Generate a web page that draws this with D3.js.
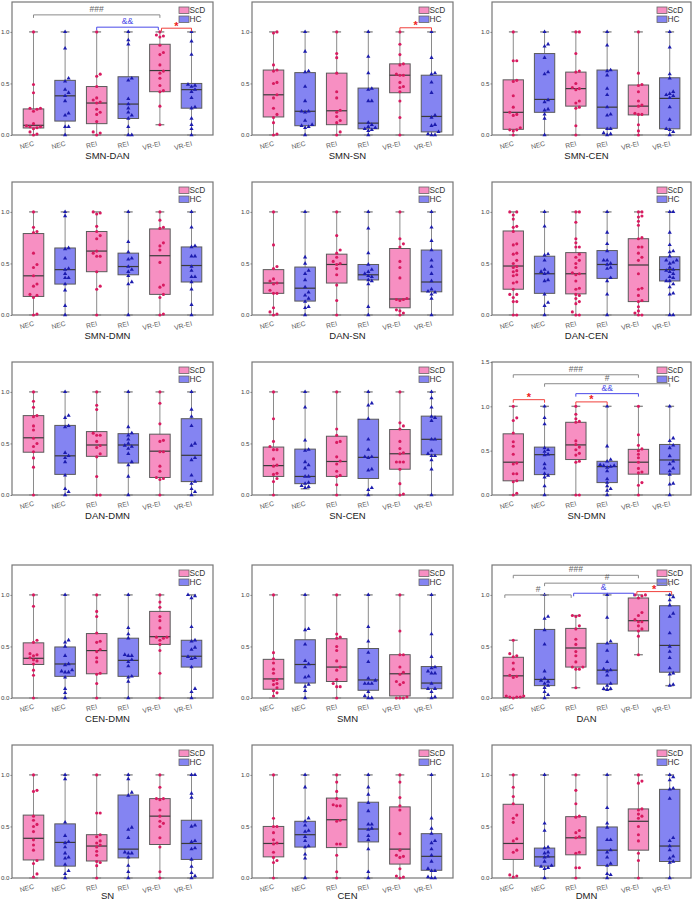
<!DOCTYPE html>
<html>
<head>
<meta charset="utf-8">
<script src="https://cdn.jsdelivr.net/npm/d3@7"></script>
<style>
  body { margin: 0; background: #fff; }
  text { font-family: Arial, "Liberation Sans", sans-serif; }
</style>
</head>
<body>
<script>
// panels, left to right, top to bottom
const panelTitles = ["SMN-DAN", "SMN-SN", "SMN-CEN", "SMN-DMN", "DAN-SN", "DAN-CEN",
  "DAN-DMN", "SN-CEN", "SN-DMN", "CEN-DMN", "SMN", "DAN", "SN", "CEN", "DMN"];
const groupLabels = ["NEC", "NEC", "REI", "REI", "VR-EI", "VR-EI"];
const groupSeries = ["ScD", "HC", "ScD", "HC", "ScD", "HC"];
const legendLabels = ["ScD", "HC"];
const yMaxes = [1.29, 1.29, 1.29, 1.29, 1.29, 1.29, 1.29, 1.29, 1.5, 1.29, 1.29, 1.29, 1.29, 1.29, 1.29];
const yTicks = [0, 0.5, 1.0, 1.5];

// [min, q1, median, q3, max] per box
const boxStats = [
  [[0,0.068,0.094,0.253,1],[0,0.135,0.38,0.53,1],[0,0.11,0.31,0.47,1],[0,0.16,0.30,0.565,1],[0.1,0.42,0.625,0.88,1],[0,0.26,0.44,0.50,1]],
  [[0,0.175,0.39,0.63,1],[0,0.09,0.23,0.605,1],[0,0.10,0.235,0.60,1],[0,0.06,0.115,0.455,1],[0,0.41,0.58,0.69,1],[0,0.03,0.18,0.58,1]],
  [[0,0.055,0.22,0.535,1],[0,0.22,0.345,0.79,1],[0,0.28,0.45,0.61,1],[0,0.065,0.27,0.63,1],[0,0.195,0.28,0.485,1],[0,0.06,0.355,0.555,1]],
  [[0,0.18,0.38,0.79,1],[0,0.30,0.44,0.65,1],[0,0.42,0.62,0.81,1],[0,0.39,0.47,0.60,1],[0,0.20,0.575,0.835,1],[0,0.32,0.48,0.66,1]],
  [[0,0.21,0.31,0.44,1],[0,0.135,0.26,0.465,1],[0,0.31,0.49,0.59,1],[0,0.34,0.39,0.49,1],[0,0.07,0.155,0.645,1],[0,0.225,0.32,0.63,1]],
  [[0,0.25,0.475,0.815,1],[0,0.21,0.40,0.57,1],[0,0.205,0.40,0.605,1],[0,0.355,0.49,0.625,1],[0,0.13,0.485,0.74,1],[0,0.33,0.44,0.565,1]],
  [[0,0.415,0.555,0.77,1],[0,0.20,0.38,0.675,1],[0,0.375,0.485,0.615,1],[0,0.31,0.485,0.595,1],[0,0.17,0.425,0.59,1],[0,0.13,0.385,0.74,1]],
  [[0,0.18,0.285,0.465,1],[0.06,0.11,0.18,0.445,1],[0,0.18,0.325,0.57,1],[0,0.16,0.365,0.735,1],[0,0.25,0.40,0.635,1],[0,0.39,0.54,0.765,1]],
  [[0,0.16,0.37,0.69,1],[0,0.23,0.455,0.54,1],[0,0.40,0.565,0.82,1],[0,0.14,0.32,0.38,1],[0,0.235,0.37,0.515,1],[0,0.235,0.395,0.57,1]],
  [[0,0.325,0.385,0.535,1],[0,0.21,0.33,0.495,1],[0,0.235,0.46,0.625,1],[0,0.21,0.365,0.58,1],[0,0.52,0.595,0.84,1],[0,0.30,0.405,0.56,1]],
  [[0,0.085,0.185,0.375,1],[0,0.145,0.325,0.565,1],[0,0.16,0.30,0.575,1],[0,0.075,0.175,0.48,1],[0,0.02,0.235,0.42,1],[0,0.09,0.145,0.305,1]],
  [[0,0.005,0.215,0.395,0.56],[0,0.12,0.18,0.665,1],[0.1,0.30,0.485,0.675,0.8],[0.08,0.135,0.27,0.53,1],[0.42,0.65,0.75,0.97,1],[0.12,0.25,0.51,0.895,1]],
  [[0,0.175,0.385,0.61,1],[0,0.115,0.345,0.525,1],[0,0.165,0.31,0.42,1],[0,0.195,0.28,0.805,1],[0,0.325,0.60,0.77,1],[0,0.18,0.335,0.56,1]],
  [[0,0.205,0.335,0.50,1],[0,0.30,0.42,0.55,1],[0,0.295,0.565,0.775,1],[0,0.35,0.475,0.735,1],[0,0.135,0.28,0.69,1],[0,0.075,0.21,0.43,1]],
  [[0,0.18,0.335,0.715,1],[0,0.115,0.205,0.29,1],[0,0.225,0.39,0.595,1],[0,0.12,0.27,0.495,1],[0,0.27,0.55,0.67,1],[0,0.16,0.31,0.86,1]]
];

// individual subject values per box
const boxPoints = [
  [[1,0.49,0.41,0.26,0.26,0.25,0.23,0.11,0.09,0.08,0.08,0.07,0.06,0.03,0.01,0],
   [1,0.84,0.55,0.52,0.44,0.41,0.38,0.33,0.21,0.19,0.08,0.08,0],
   [1,0.59,0.57,0.47,0.36,0.34,0.32,0.31,0.25,0.22,0.2,0.13,0.03,0.02,0],
   [1,0.92,0.88,0.55,0.53,0.35,0.30,0.26,0.22,0.19,0.16,0.08,0,0],
   [1,0.97,0.96,0.95,0.87,0.8,0.78,0.68,0.62,0.6,0.55,0.48,0.43,0.42,0.28,0.1],
   [1,0.91,0.78,0.49,0.48,0.47,0.44,0.42,0.36,0.27,0.26,0.16,0.1,0.06,0]],
  [[1,0.99,0.68,0.63,0.62,0.51,0.5,0.39,0.36,0.26,0.2,0.17,0.12,0.01,0],
   [1,0.81,0.62,0.61,0.47,0.33,0.23,0.23,0.22,0.14,0.1,0.09,0.08,0.07,0],
   [1,0.79,0.75,0.6,0.42,0.36,0.24,0.22,0.18,0.14,0.12,0.03,0],
   [1,0.76,0.6,0.45,0.44,0.33,0.33,0.12,0.1,0.08,0.07,0.06,0.05,0.04,0],
   [1,0.88,0.78,0.69,0.68,0.59,0.58,0.58,0.51,0.47,0.46,0.42,0.33,0.17,0],
   [1,0.75,0.6,0.59,0.51,0.41,0.19,0.17,0.1,0.09,0.03,0.01,0,0]],
  [[1,0.72,0.72,0.53,0.52,0.38,0.27,0.22,0.2,0.19,0.07,0.05,0.05,0.04,0],
   [1,0.88,0.86,0.75,0.61,0.59,0.34,0.32,0.25,0.24,0.2,0.16,0],
   [1,1,0.79,0.62,0.61,0.5,0.46,0.45,0.44,0.33,0.31,0.27,0.26,0.09,0],
   [1,0.87,0.63,0.62,0.58,0.45,0.39,0.27,0.2,0.19,0.06,0.06,0.02,0.01,0],
   [1,0.6,0.49,0.48,0.42,0.33,0.29,0.28,0.21,0.2,0.2,0.1,0.04,0],
   [1,0.85,0.59,0.55,0.42,0.4,0.39,0.38,0.36,0.27,0.15,0.06,0.05,0.03,0]],
  [[1,0.85,0.81,0.8,0.6,0.49,0.46,0.38,0.3,0.28,0.2,0.19,0.17,0.01,0],
   [1,0.96,0.65,0.64,0.55,0.45,0.44,0.4,0.36,0.36,0.3,0.24,0.09,0],
   [1,0.99,0.98,0.86,0.81,0.77,0.74,0.62,0.6,0.57,0.57,0.42,0.28,0.25,0],
   [1,0.71,0.61,0.55,0.54,0.47,0.44,0.42,0.38,0.32,0.3,0],
   [1,0.92,0.85,0.84,0.7,0.67,0.63,0.51,0.29,0.27,0.2,0.17,0.01,0],
   [1,0.85,0.67,0.66,0.57,0.57,0.47,0.43,0.37,0.37,0.32,0.25,0.1,0]],
  [[1,0.68,0.47,0.45,0.35,0.33,0.31,0.3,0.24,0.21,0.21,0.07,0.03,0.01,0],
   [1,0.56,0.5,0.43,0.4,0.34,0.27,0.22,0.19,0.16,0.13,0.08,0.07,0],
   [1,0.77,0.63,0.6,0.56,0.52,0.5,0.49,0.45,0.39,0.29,0.14,0],
   [1,0.84,0.6,0.49,0.44,0.42,0.4,0.38,0.37,0.34,0.33,0.3,0.08,0],
   [1,0.74,0.69,0.66,0.52,0.46,0.36,0.16,0.15,0.15,0.14,0.05,0.04,0.02,0],
   [1,0.85,0.72,0.63,0.53,0.47,0.4,0.33,0.25,0.23,0.22,0.2,0.16,0]],
  [[1,1,0.97,0.93,0.86,0.85,0.81,0.69,0.68,0.6,0.59,0.53,0.5,0.47,0.46,0.43,0.42,0.39,0.38,0.32,0.31,0.25,0.2,0.2,0.17,0.13,0.13,0,0],
   [1,0.86,0.59,0.58,0.53,0.44,0.42,0.41,0.4,0.34,0.33,0.2,0.12,0.09,0],
   [1,1,0.9,0.74,0.7,0.66,0.66,0.59,0.56,0.53,0.5,0.46,0.41,0.4,0.39,0.33,0.26,0.25,0.2,0.19,0.16,0.13,0.11,0.03,0,0],
   [1,0.8,0.69,0.62,0.53,0.53,0.5,0.49,0.46,0.45,0.36,0.33,0.2,0],
   [1,1,0.96,0.95,0.91,0.87,0.75,0.74,0.66,0.66,0.6,0.56,0.53,0.4,0.26,0.25,0.19,0.14,0.13,0.08,0.04,0.02,0,0],
   [1,1,0.8,0.68,0.62,0.61,0.57,0.53,0.53,0.51,0.5,0.46,0.44,0.43,0.42,0.4,0.37,0.36,0.33,0.33,0.3,0.27,0.21,0.2,0,0]],
  [[1,0.91,0.85,0.77,0.76,0.67,0.63,0.55,0.5,0.47,0.42,0.36,0.27,0],
   [1,0.77,0.75,0.67,0.66,0.41,0.38,0.36,0.32,0.19,0.06,0.03,0],
   [1,0.87,0.83,0.6,0.58,0.58,0.52,0.48,0.46,0.4,0.37,0.18,0,0],
   [1,0.66,0.6,0.58,0.54,0.5,0.48,0.47,0.45,0.4,0.32,0.29,0.18,0],
   [1,0.89,0.69,0.53,0.52,0.42,0.42,0.28,0.23,0.17,0.16,0.15,0],
   [1,0.83,0.76,0.67,0.5,0.48,0.36,0.34,0.19,0.13,0.11,0.06,0.03,0]],
  [[1,0.74,0.52,0.47,0.44,0.44,0.35,0.29,0.28,0.21,0.2,0.16,0.13,0],
   [1,0.85,0.53,0.44,0.43,0.32,0.29,0.26,0.18,0.18,0.12,0.11,0.09,0.08,0.07],
   [1,0.64,0.58,0.52,0.51,0.37,0.33,0.3,0.23,0.19,0.18,0.1,0],
   [1,0.89,0.87,0.74,0.54,0.44,0.37,0.37,0.36,0.25,0.24,0.07,0.05,0],
   [1,0.7,0.67,0.64,0.52,0.45,0.41,0.4,0.32,0.32,0.32,0.25,0.11,0.01,0],
   [1,0.94,0.85,0.76,0.75,0.72,0.54,0.54,0.43,0.4,0.38,0.38,0.34,0.25,0]],
  [[1,0.87,0.84,0.7,0.6,0.55,0.46,0.36,0.35,0.24,0.24,0.16,0.15,0.02,0],
   [1,0.87,0.8,0.53,0.51,0.49,0.46,0.45,0.35,0.3,0.24,0.22,0.2,0.1,0],
   [1,0.91,0.86,0.83,0.82,0.61,0.57,0.54,0.51,0.47,0.45,0.38,0.37,0,0],
   [1,0.55,0.4,0.38,0.34,0.33,0.33,0.32,0.31,0.27,0.18,0.14,0.1,0.07,0.05,0],
   [1,0.68,0.56,0.52,0.5,0.46,0.42,0.37,0.3,0.26,0.25,0.14,0.11,0],
   [1,0.64,0.61,0.56,0.53,0.44,0.38,0.35,0.3,0.27,0.23,0.13,0.12,0]],
  [[1,0.89,0.56,0.54,0.43,0.42,0.41,0.39,0.37,0.36,0.33,0.27,0.22,0],
   [1,0.56,0.54,0.5,0.41,0.33,0.32,0.27,0.26,0.25,0.25,0.2,0.09,0.05,0],
   [1,0.84,0.79,0.63,0.55,0.54,0.47,0.45,0.39,0.35,0.24,0.23,0.14,0],
   [1,0.68,0.62,0.58,0.42,0.41,0.41,0.37,0.35,0.31,0.21,0.2,0.16,0],
   [1,0.93,0.88,0.79,0.75,0.68,0.59,0.59,0.58,0.56,0.52,0.46,0.24,0],
   [1,0.99,0.97,0.69,0.56,0.55,0.49,0.47,0.4,0.39,0.38,0.3,0.09,0.06,0]],
  [[1,0.44,0.38,0.34,0.28,0.24,0.18,0.17,0.14,0.13,0.1,0.07,0.05,0.02],
   [1,0.67,0.66,0.52,0.36,0.33,0.3,0.21,0.2,0.13,0.11,0.07,0],
   [1,0.62,0.59,0.58,0.5,0.46,0.36,0.3,0.27,0.18,0.14,0.11,0.11,0],
   [1,0.69,0.55,0.44,0.35,0.19,0.17,0.14,0.14,0.14,0.06,0.02,0,0],
   [1,0.65,0.42,0.42,0.3,0.25,0.23,0.16,0.15,0.13,0.01,0,0,0],
   [1,0.62,0.4,0.3,0.29,0.26,0.24,0.24,0.14,0.09,0.09,0.06,0.01,0]],
  [[0.56,0.43,0.41,0.4,0.34,0.28,0.22,0.21,0.2,0.02,0.02,0.01,0.01,0.01,0],
   [1,0.79,0.77,0.66,0.52,0.26,0.19,0.17,0.16,0.14,0.12,0.1,0.06,0.03,0],
   [0.8,0.8,0.79,0.7,0.67,0.57,0.52,0.45,0.41,0.35,0.3,0.3,0.28,0.28,0.1],
   [1,0.78,0.55,0.53,0.46,0.35,0.28,0.27,0.26,0.22,0.14,0.12,0.09,0.09,0.08],
   [1,1,0.99,0.97,0.83,0.8,0.76,0.74,0.74,0.7,0.67,0.65,0.6,0.42],
   [1,0.98,0.95,0.9,0.82,0.79,0.63,0.5,0.45,0.39,0.29,0.24,0.23,0.13,0.12]],
  [[1,0.85,0.84,0.6,0.56,0.52,0.5,0.45,0.37,0.32,0.27,0.17,0.14,0.04,0.01],
   [1,0.96,0.54,0.41,0.35,0.34,0.3,0.24,0.2,0.19,0.13,0.07,0.04,0],
   [1,0.63,0.63,0.42,0.4,0.36,0.34,0.32,0.3,0.26,0.22,0.16,0.15,0.12,0],
   [1,0.96,0.83,0.8,0.49,0.47,0.39,0.25,0.24,0.24,0.2,0.12,0.06,0],
   [1,0.88,0.77,0.77,0.76,0.66,0.6,0.55,0.53,0.5,0.39,0.3,0.06,0],
   [1,1,0.82,0.78,0.51,0.5,0.36,0.35,0.29,0.28,0.18,0.11,0.05,0.02,0]],
  [[1,0.58,0.5,0.5,0.44,0.37,0.34,0.33,0.25,0.2,0.17,0.15,0],
   [1,0.88,0.58,0.55,0.51,0.46,0.45,0.4,0.36,0.31,0.3,0.23,0.19,0],
   [1,0.93,0.84,0.77,0.71,0.7,0.7,0.56,0.55,0.33,0.33,0.22,0.06,0],
   [1,0.88,0.81,0.73,0.65,0.52,0.52,0.48,0.47,0.41,0.37,0.28,0.06,0],
   [1,0.93,0.78,0.7,0.66,0.43,0.27,0.22,0.21,0.2,0.09,0.02,0.01,0],
   [1,0.58,0.48,0.43,0.36,0.34,0.28,0.22,0.16,0.09,0.07,0.07,0.01,0,0]],
  [[1,0.88,0.79,0.72,0.61,0.58,0.54,0.38,0.36,0.27,0.25,0.03,0.02,0.01],
   [1,0.53,0.46,0.3,0.29,0.25,0.24,0.21,0.2,0.16,0.12,0.11,0.1,0.09,0],
   [1,0.85,0.72,0.6,0.59,0.46,0.44,0.4,0.39,0.25,0.24,0.1,0.1,0],
   [1,0.68,0.53,0.49,0.37,0.37,0.27,0.25,0.2,0.14,0.12,0.04,0.03,0],
   [1,0.94,0.92,0.67,0.66,0.62,0.6,0.58,0.5,0.42,0.36,0.24,0.17,0],
   [1,0.98,0.95,0.87,0.86,0.77,0.39,0.36,0.31,0.27,0.21,0.19,0.16,0.15,0]]
];

// significance brackets: panel, from group, to group, height, label, kind
const brackets = [
  [0, 0, 4, 1.165, "###", "gray"],
  [0, 2, 3.95, 1.046, "&&", "blue"],
  [0, 4.05, 5, 1.036, "*", "red"],
  [1, 4, 5, 1.04, "*", "red"],
  [8, 0, 4, 1.356, "###", "gray"],
  [8, 1, 5, 1.255, "#", "gray"],
  [8, 2, 4, 1.143, "&&", "blue"],
  [8, 0, 1, 1.075, "*", "red"],
  [8, 2, 3, 1.05, "*", "red"],
  [11, 0, 4, 1.19, "###", "gray"],
  [11, 1, 5, 1.114, "#", "gray"],
  [11, -0.27, 1.85, 1.0, "#", "gray"],
  [11, 1.93, 3.85, 1.016, "&", "blue"],
  [11, 3.95, 5.06, 1.032, "*", "red"]
];

// layout
const colX = [12, 252, 492];
const colW = [201, 201, 199];
const rowY = [2, 182, 362, 565, 745];
const titleGap = [23.5, 23.5, 23.5, 23.5, 21];
const panelH = 133;
const boxFill = {ScD: "#f78fc2", HC: "#8484f2"};
const dotFill = {ScD: "#d81b60", HC: "#1c1cae"};
const bracketColor = {gray: "#8a8a8a", blue: "#4a4ae8", red: "#f0403c"};
const labelColor = {gray: "#666", blue: "#4a4ae8", red: "#ee2222"};

const svg = d3.select("body").append("svg")
  .attr("width", 692)
  .attr("height", 900);

function scalesFor(p) {
  const col = p % 3, row = Math.floor(p / 3);
  const x0 = colX[col], w = colW[col], y0 = rowY[row];
  const x = d3.scaleBand().domain(d3.range(6)).range([x0, x0 + w])
    .paddingInner(0.35).paddingOuter(0.355);
  const y = d3.scaleLinear().domain([0, yMaxes[p]]).range([y0 + panelH, y0]);
  const cx = i => x(0) + x.bandwidth() / 2 + i * x.step();
  return {x0: x0, w: w, y0: y0, row: row, x: x, y: y, cx: cx};
}

// simple deterministic beeswarm so dots with similar values sit side by side
function swarm(values, cx, y) {
  const placed = [];
  values.slice().sort((a, b) => a - b).forEach(v => {
    const py = y(v);
    let px = cx;
    for (let k = 0; k < 14; k++) {
      const off = k === 0 ? 0 : (k % 2 ? 1 : -1) * Math.ceil(k / 2) * 3.5;
      if (!placed.some(p => Math.hypot(p.x - (cx + off), p.y - py) < 3.3)) { px = cx + off; break; }
    }
    placed.push({x: px, y: py, v: v});
  });
  return placed;
}

panelTitles.forEach((title, p) => {
  const s = scalesFor(p);
  const x0 = s.x0, w = s.w, y0 = s.y0, y = s.y, cx = s.cx;
  const bw = s.x.bandwidth();
  const g = svg.append("g");

  // frame
  g.append("rect")
    .attr("x", x0).attr("y", y0)
    .attr("width", w).attr("height", panelH)
    .attr("fill", "none").attr("stroke", "#777").attr("stroke-width", 1.2);

  // y axis
  const ay = g.append("g")
    .attr("transform", "translate(" + x0 + ",0)")
    .call(d3.axisLeft(y).tickValues(yTicks.filter(t => t <= yMaxes[p] + 1e-9))
      .tickFormat(d3.format(".1f")).tickSize(1.5).tickPadding(1));
  ay.select(".domain").remove();
  ay.selectAll("line").attr("stroke", "#777");
  ay.selectAll("text").attr("font-size", 6.2).attr("fill", "#444");

  // boxes
  boxStats[p].forEach((st, i) => {
    const c = cx(i), ser = groupSeries[i];
    g.append("line")
      .attr("x1", c).attr("x2", c).attr("y1", y(st[0])).attr("y2", y(st[4]))
      .attr("stroke", "#8a8a8a").attr("stroke-width", 1);
    [st[0], st[4]].forEach(v => {
      g.append("line")
        .attr("x1", c - 4.4).attr("x2", c + 4.4).attr("y1", y(v)).attr("y2", y(v))
        .attr("stroke", "#8a8a8a").attr("stroke-width", 1.4);
    });
    g.append("rect")
      .attr("x", c - bw / 2).attr("y", y(st[3]))
      .attr("width", bw).attr("height", y(st[1]) - y(st[3]))
      .attr("fill", boxFill[ser]).attr("stroke", "#5a5a5a").attr("stroke-width", 1);
    g.append("line")
      .attr("x1", c - bw / 2).attr("x2", c + bw / 2).attr("y1", y(st[2])).attr("y2", y(st[2]))
      .attr("stroke", "#3a3a3a").attr("stroke-width", 1.2);

    const pts = swarm(boxPoints[p][i], c, y);
    if (ser === "ScD") {
      g.selectAll(null).data(pts).enter().append("circle")
        .attr("cx", d => d.x).attr("cy", d => d.y).attr("r", 1.55)
        .attr("fill", dotFill[ser]);
    } else {
      g.selectAll(null).data(pts).enter().append("path")
        .attr("d", d3.symbol().type(d3.symbolTriangle).size(7.5))
        .attr("transform", d => "translate(" + d.x + "," + d.y + ")")
        .attr("fill", dotFill[ser]);
    }
  });

  // x tick labels
  groupLabels.forEach((lab, i) => {
    const tx = cx(i) + 1, ty = y0 + panelH + 10.5;
    g.append("text")
      .attr("x", tx).attr("y", ty)
      .attr("transform", "rotate(-15," + tx + "," + ty + ")")
      .attr("text-anchor", "end")
      .attr("font-size", 6.8).attr("fill", "#555")
      .text(lab);
  });

  // title
  g.append("text")
    .attr("x", x0 + w / 2 - 5).attr("y", y0 + panelH + titleGap[s.row])
    .attr("text-anchor", "middle").attr("font-size", 9.5).attr("fill", "#222")
    .text(title);

  // legend
  legendLabels.forEach((lab, k) => {
    const lx = x0 + w - 34, ly = y0 + 5 + k * 9;
    g.append("rect").attr("x", lx).attr("y", ly).attr("width", 10).attr("height", 6.5)
      .attr("fill", boxFill[lab]).attr("stroke", "#666").attr("stroke-width", 0.8);
    g.append("text").attr("x", lx + 10.5).attr("y", ly + 6.3)
      .attr("font-size", 8.3).attr("fill", "#333").text(lab);
  });
});

// significance brackets
brackets.forEach(b => {
  const s = scalesFor(b[0]);
  const xa = s.cx(b[1]), xb = s.cx(b[2]), yy = s.y(b[3]);
  svg.append("path")
    .attr("d", "M" + xa + "," + (yy + 3) + "V" + yy + "H" + xb + "V" + (yy + 3))
    .attr("fill", "none").attr("stroke", bracketColor[b[5]]).attr("stroke-width", 1);
  const isStar = b[4] === "*";
  svg.append("text")
    .attr("x", (xa + xb) / 2).attr("y", isStar ? yy + 1.5 : yy - 3)
    .attr("text-anchor", "middle")
    .attr("font-size", isStar ? 11 : 8.5)
    .attr("font-weight", isStar ? "bold" : "normal")
    .attr("fill", labelColor[b[5]])
    .text(b[4]);
});
</script>
</body>
</html>
